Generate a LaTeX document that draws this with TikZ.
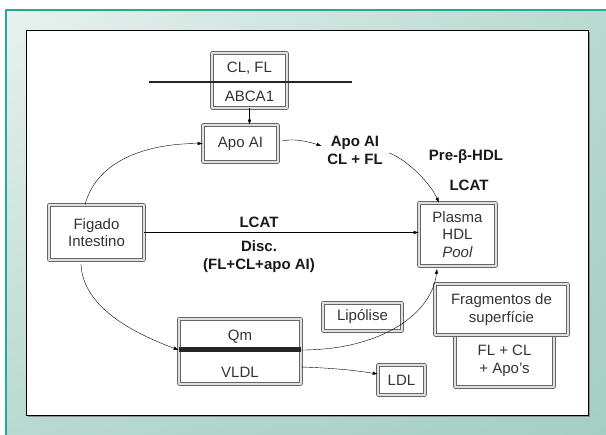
\documentclass[tikz,border=0pt]{standalone}
\usepackage{fontspec}
\setmainfont{Liberation Sans}
\usetikzlibrary{arrows.meta,shadings}
\definecolor{panelteal}{HTML}{1FAE8F}
\definecolor{panellight}{HTML}{E8F2EF}
\definecolor{panelmid}{HTML}{B8D9D1}
\definecolor{paneldark}{HTML}{A4CEC4}
\tikzset{
  box/.style={draw=black!60, double=black!12, double distance=2.4pt, line width=0.6pt,
    inner sep=0pt, text=black!80, align=center},
  txt/.style={inner sep=1pt, text=black!80},
  lbl/.style={font=\fontsize{15}{18}\selectfont\bfseries, inner sep=1pt, align=center, text=black!90},
  membrane/.style={line width=2.5pt, black!85, line cap=butt},
}
\begin{document}
\begin{tikzpicture}[x=1pt,y=-1pt,line cap=round,line join=round,
  >={Latex[length=5pt,width=3.5pt]},font=\fontsize{15}{17.5}\selectfont]
  \useasboundingbox (0,0) rectangle (606,435);
  % panel and sheet
  \shade[upper left=panellight, upper right=panelmid, lower left=panelmid, lower right=paneldark]
    (6,10) rectangle (606,435);
  \draw[panelteal, line width=1.5pt, line cap=butt] (6,435) -- (6,10) -- (606,10);
  \fill[black!45] (28,32) rectangle (590,417);
  \draw[fill=white, line width=0.8pt] (26,30) rectangle (588,415);

  % boxes
  \node[box, minimum width=75pt, minimum height=55pt] (abca) at (249.5,80.5) {};
  \node[txt] (clfl) at (249.5,68.5) {CL, FL};
  \node[txt] (abcatxt) at (249.5,96) {ABCA1};
  \draw[membrane] (149,82) -- (352,82);

  \node[box, minimum width=75pt, minimum height=37pt] (apo) at (240.5,143.5) {Apo AI};
  \node[box, minimum width=95pt, minimum height=55pt] (fig) at (96.5,232.5) {Figado\\Intestino};
  \node[box, minimum width=77pt, minimum height=63pt] (plasma) at (457.5,234.5) {Plasma\\HDL\\\textit{Pool}};

  \node[box, minimum width=122pt, minimum height=65pt] (qm) at (240,351.5) {};
  \node[txt] (qmtxt) at (240,337) {Qm};
  \node[txt] (vldl) at (240,372) {VLDL};
  \draw[membrane, line width=5pt] ([yshift=1.5pt]qm.west) -- ([yshift=1.5pt]qm.east);

  \node[box, minimum width=79pt, minimum height=28pt] (lipo) at (362.5,317) {Lipólise};
  \node[box, minimum width=47pt, minimum height=30pt] (ldl) at (401.5,380) {LDL};
  \node[box, minimum width=99pt, minimum height=52pt] (flcl) at (504.5,361) {FL + CL\\+ Apo's};
  \node[box, minimum width=133pt, minimum height=51pt] (frag) at (501.5,309.5) {Fragmentos de\\superfície};

  % labels
  \node[lbl] (apolbl) at (355,150) {Apo AI\\CL + FL};
  \node[lbl] (prebeta) at (466,157) {Pre-β-HDL};
  \node[lbl] (lcatb) at (469,185) {LCAT};
  \node[lbl] (lcata) at (259,222) {LCAT};
  \node[lbl] (disc) at (259,257) {Disc.\\(FL+CL+apo AI)};

  % connectors
  \draw[->] (abca.south) -- (abca.south |- apo.north);
  \draw[->] ([xshift=-11.5pt]fig.north) .. controls +(12,-45) and +(-55,0) .. (apo.west);
  \draw[->] ([xshift=4pt,yshift=2.5pt]apo.east) .. controls +(12,-3) and +(-12,-4) .. ([shift={(-4.5,-4)}]apolbl.west);
  \draw[->] ([shift={(5.5,3)}]apolbl.east) .. controls +(20,8) and +(-8,-18) .. ([xshift=-18.5pt]plasma.north);
  \draw[->] (fig.east) -- (fig.east -| plasma.west);
  \draw[->] ([shift={(-15.5,4)}]fig.south) .. controls +(2,45) and +(-40,-15) .. ([yshift=1.5pt]qm.west);
  \draw[->] ([yshift=1.5pt]qm.east) .. controls +(80,0) and +(-5,45) .. ([shift={(-20.5,2.5)}]plasma.south);
  \draw[->] ([yshift=-15.5pt]qm.east) .. controls +(30,1) and +(-25,-4) .. ([yshift=6pt]ldl.west);
\end{tikzpicture}
\end{document}
